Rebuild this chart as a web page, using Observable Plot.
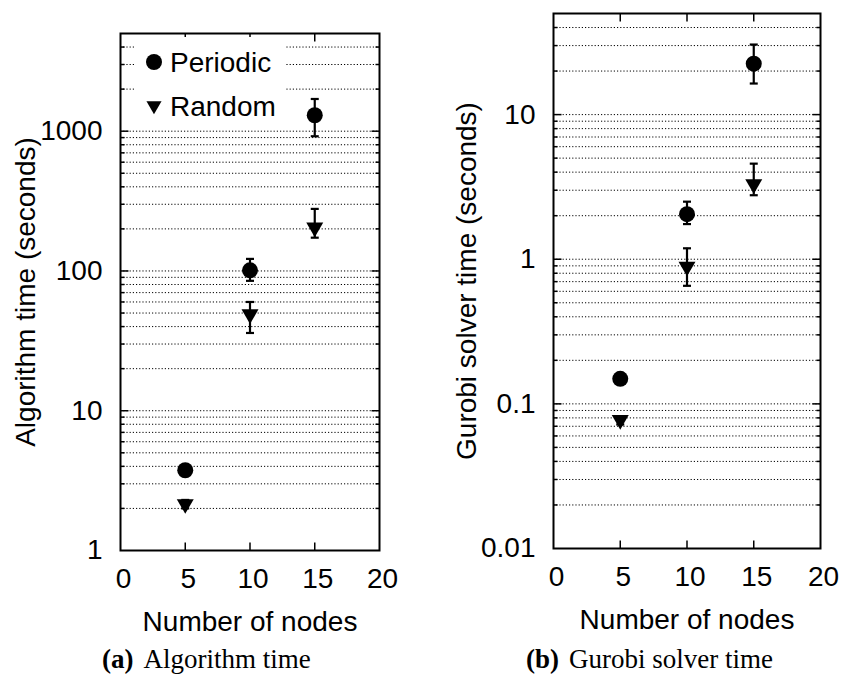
<!DOCTYPE html>
<html>
<head>
<meta charset="utf-8">
<script src="https://cdn.jsdelivr.net/npm/d3@7"></script>
<script src="https://cdn.jsdelivr.net/npm/@observablehq/plot@0.6"></script>
<style>
  html, body { margin: 0; padding: 0; background: #fff; }
  #wrap { position: relative; width: 841px; height: 675px; overflow: hidden; }
  .panel { position: absolute; top: 0; }
  .caption { position: absolute; font-family: "Liberation Serif", "Times New Roman", serif; font-size: 27px; color: #000; white-space: nowrap; line-height: 1; }
  .caption b { margin-right: 10px; }
  .legend { position: absolute; background: #fff; overflow: visible; }
</style>
</head>
<body>
<div id="wrap"></div>
<script>
// ---- data ----
const nodes = [5, 10, 15];

const algPeriodic   = [3.75, 101, 1300];
const algPeriodicLo = [3.75, 85, 920];
const algPeriodicHi = [3.75, 122, 1700];
const algRandom     = [2.15, 49, 205];
const algRandomLo   = [2.0, 36, 173];
const algRandomHi   = [2.3, 60, 278];

const grbPeriodic   = [0.149, 2.05, 22.5];
const grbPeriodicLo = [0.149, 1.75, 16.4];
const grbPeriodicHi = [0.149, 2.5, 30.5];
const grbRandom     = [0.0775, 0.89, 3.3];
const grbRandomLo   = [0.072, 0.655, 2.77];
const grbRandomHi   = [0.0775, 1.19, 4.58];

const xTickLabels = [0, 5, 10, 15, 20];
const xTickMarks = [5, 10, 15];
const algYTicks = [1, 10, 100, 1000];
const grbYTicks = [0.01, 0.1, 1, 10];
const seriesNames = ["Periodic", "Random"];

// ---- helpers ----
const FONT = "'Liberation Sans', Arial, sans-serif";
const FS = 28;
const R_CIRCLE = 8, R_TRI = 6.3;
const rows = (ys, lo, hi) => nodes.map((n, i) => ({n, y: ys[i], lo: lo[i], hi: hi[i]}));
const minorGrid = (decades, domain) => decades.flatMap(d => [1,2,3,4,5,6,7,8,9].map(k => k * d))
  .filter(v => v > domain[0] && v < domain[1]);
const hline = {draw(ctx, size) { const l = Math.sqrt(size / Math.PI); ctx.moveTo(-l, 0); ctx.lineTo(l, 0); }};
const vline = {draw(ctx, size) { const l = Math.sqrt(size / Math.PI); ctx.moveTo(0, -l); ctx.lineTo(0, l); }};

function panel({yDomain, yTicks, decades, label, periodic, random, width, height, margins, yLabelOffset}) {
  const grid = minorGrid(decades, yDomain);
  const majors = yTicks.filter(v => v > yDomain[0] && v < yDomain[1]);
  const minors = grid.filter(v => !majors.includes(v));
  return Plot.plot({
    width, height,
    marginLeft: margins[0], marginRight: margins[1], marginTop: margins[2], marginBottom: margins[3],
    style: {fontFamily: FONT, fontSize: FS + "px", color: "#000", background: "#fff", overflow: "visible"},
    x: {domain: [0, 20]},
    y: {type: "log", domain: yDomain},
    marks: [
      Plot.ruleY(grid, {y: d => d, stroke: "#000", strokeWidth: 1, strokeDasharray: "1.2,2", strokeOpacity: 1}),
      // inward tick marks
      Plot.dot(xTickMarks, {x: d => d, frameAnchor: "bottom", symbol: vline, r: 4, dy: -4, stroke: "#000", strokeWidth: 1.5}),
      Plot.dot(xTickMarks, {x: d => d, frameAnchor: "top", symbol: vline, r: 4, dy: 4, stroke: "#000", strokeWidth: 1.5}),
      Plot.dot(majors, {y: d => d, frameAnchor: "left", symbol: hline, r: 4, dx: 4, stroke: "#000", strokeWidth: 1.5}),
      Plot.dot(majors, {y: d => d, frameAnchor: "right", symbol: hline, r: 4, dx: -4, stroke: "#000", strokeWidth: 1.5}),
      Plot.dot(minors, {y: d => d, frameAnchor: "left", symbol: hline, r: 2, dx: 2, stroke: "#000", strokeWidth: 1.5}),
      Plot.dot(minors, {y: d => d, frameAnchor: "right", symbol: hline, r: 2, dx: -2, stroke: "#000", strokeWidth: 1.5}),
      Plot.axisX({ticks: xTickLabels, tickSize: 0, tickPadding: 18, tickFormat: d => String(d), dx: 3,
        label: "Number of nodes", labelAnchor: "center", labelOffset: 80, labelArrow: "none", fontSize: FS}),
      Plot.axisY({ticks: yTicks, tickSize: 0, tickPadding: 18, tickFormat: d => String(d),
        label, labelAnchor: "center", labelOffset: yLabelOffset, labelArrow: "none", fontSize: FS}),
      // error bars
      Plot.ruleX(periodic, {x: "n", y1: "lo", y2: "hi", stroke: "#000", strokeWidth: 2.2}),
      Plot.ruleX(random, {x: "n", y1: "lo", y2: "hi", stroke: "#000", strokeWidth: 2.2}),
      Plot.dot(periodic, {x: "n", y: "lo", symbol: hline, r: 4, stroke: "#000", strokeWidth: 2.2}),
      Plot.dot(periodic, {x: "n", y: "hi", symbol: hline, r: 4, stroke: "#000", strokeWidth: 2.2}),
      Plot.dot(random, {x: "n", y: "lo", symbol: hline, r: 4, stroke: "#000", strokeWidth: 2.2}),
      Plot.dot(random, {x: "n", y: "hi", symbol: hline, r: 4, stroke: "#000", strokeWidth: 2.2}),
      // markers
      Plot.dot(periodic, {x: "n", y: "y", symbol: "circle", r: R_CIRCLE, fill: "#000", stroke: "none"}),
      Plot.dot(random, {x: "n", y: "y", symbol: "triangle", r: R_TRI, rotate: 180, fill: "#000", stroke: "none"}),
      Plot.frame({stroke: "#000", strokeWidth: 2})
    ]
  });
}

const wrap = document.getElementById("wrap");

const left = panel({
  yDomain: [1, 5000], yTicks: algYTicks, decades: [1, 10, 100, 1000], label: "Algorithm time (seconds)",
  periodic: rows(algPeriodic, algPeriodicLo, algPeriodicHi), random: rows(algRandom, algRandomLo, algRandomHi),
  width: 420, height: 640, margins: [120, 41, 33, 90], yLabelOffset: 105
});
left.classList.add("panel"); left.style.left = "0px";
wrap.appendChild(left);

const right = panel({
  yDomain: [0.01, 50], yTicks: grbYTicks, decades: [0.01, 0.1, 1, 10], label: "Gurobi solver time (seconds)",
  periodic: rows(grbPeriodic, grbPeriodicLo, grbPeriodicHi), random: rows(grbRandom, grbRandomLo, grbRandomHi),
  width: 421, height: 640, margins: [133, 21, 13, 92], yLabelOffset: 97
});
right.classList.add("panel"); right.style.left = "420px";
wrap.appendChild(right);

// legend (in the left panel)
const leg = d3.select(wrap).append("svg").attr("class", "legend")
  .attr("width", 150).attr("height", 82)
  .style("left", "135px").style("top", "37px");
const symbols = [d3.symbol(d3.symbolCircle, Math.PI * R_CIRCLE * R_CIRCLE)(), d3.symbol(d3.symbolTriangle, Math.PI * 5.6 * 5.6)()];
seriesNames.forEach((name, i) => {
  const g = leg.append("g").attr("transform", `translate(0,${25 + i * 43.5})`);
  g.append("path").attr("d", symbols[i]).attr("fill", "#000")
    .attr("transform", `translate(19,0)` + (i === 1 ? " rotate(180)" : ""));
  g.append("text").attr("x", 35).attr("y", 0).attr("dy", "0.36em")
    .attr("font-family", FONT).attr("font-size", FS).text(name);
});

// captions
const capA = document.createElement("div");
capA.className = "caption"; capA.style.left = "102px"; capA.style.top = "646px";
capA.innerHTML = "<b>(a)</b>Algorithm time";
wrap.appendChild(capA);
const capB = document.createElement("div");
capB.className = "caption"; capB.style.left = "526px"; capB.style.top = "646px";
capB.innerHTML = "<b>(b)</b>Gurobi solver time";
wrap.appendChild(capB);
</script>
</body>
</html>
